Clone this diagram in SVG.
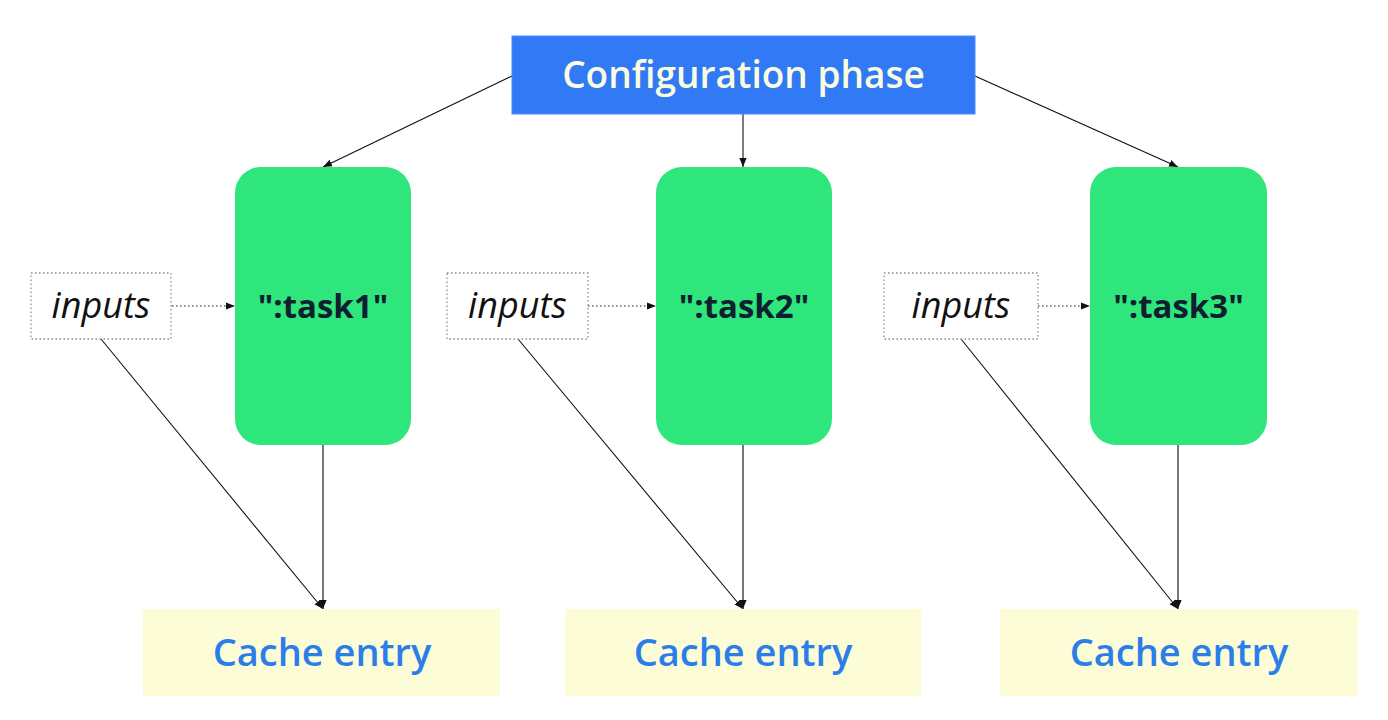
<svg xmlns="http://www.w3.org/2000/svg" width="1388" height="720" viewBox="0 0 1388 720">
<style>
.bg{fill:#ffffff}
.config{fill:#3179f5;stroke:#4a8cf7;stroke-width:1}
.config-t{font-family:"Open Sans","Liberation Sans",sans-serif;font-weight:600;font-size:37px;fill:#fbfde0}
.task{fill:#2ee67c}
.task-t{font-family:"Open Sans","Liberation Sans",sans-serif;font-weight:700;font-size:33px;fill:#0f1f30}
.inp{fill:#ffffff;stroke:#8a8a8a;stroke-width:1.3;stroke-dasharray:1.5 2.5}
.inp-t{font-family:"Open Sans","Liberation Sans",sans-serif;font-style:italic;font-size:36px;fill:#111111}
.cache{fill:#fcfdd6}
.cache-t{font-family:"Open Sans","Liberation Sans",sans-serif;font-weight:600;font-size:38px;fill:#2b7de9}
.edge{stroke:#111111;stroke-width:1.1;fill:none}
.edge-g{stroke:#555555;stroke-width:1.6;fill:none}
.dot{stroke:#666666;stroke-width:1.3;stroke-dasharray:1.5 2.5;fill:none}
</style>
<defs>
<marker id="ah" viewBox="0 0 10 10" refX="10" refY="5" markerWidth="9" markerHeight="9" markerUnits="userSpaceOnUse" orient="auto">
<path d="M0,1 L10,5 L0,9 z" fill="#111111"/>
</marker>
</defs>
<rect class="bg" x="0" y="0" width="1388" height="720"/>
<g id="connectors">
<line class="edge" x1="512" y1="76" x2="323" y2="167" marker-end="url(#ah)"/>
<line class="edge" x1="743" y1="114" x2="743" y2="167" marker-end="url(#ah)"/>
<line class="edge" x1="975" y1="76" x2="1178" y2="167" marker-end="url(#ah)"/>
<line class="dot" x1="172" y1="306" x2="235" y2="306" marker-end="url(#ah)"/>
<line class="dot" x1="588" y1="306" x2="656" y2="306" marker-end="url(#ah)"/>
<line class="dot" x1="1038" y1="306" x2="1090" y2="306" marker-end="url(#ah)"/>
<line class="edge" x1="101" y1="339" x2="323" y2="609" marker-end="url(#ah)"/>
<line class="edge" x1="518" y1="339" x2="743" y2="609" marker-end="url(#ah)"/>
<line class="edge" x1="961" y1="339" x2="1178" y2="609" marker-end="url(#ah)"/>
<line class="edge-g" x1="323" y1="445" x2="323" y2="609" marker-end="url(#ah)"/>
<line class="edge-g" x1="743" y1="445" x2="743" y2="609" marker-end="url(#ah)"/>
<line class="edge-g" x1="1178" y1="445" x2="1178" y2="609" marker-end="url(#ah)"/>
</g>
<g id="config">
<rect class="config" x="512" y="36" width="463" height="78"/>
<text class="config-t" x="743.5" y="88" text-anchor="middle">Configuration phase</text>
</g>
<g id="task1">
<rect class="task" x="235" y="167" width="176" height="278" rx="26"/>
<text class="task-t" x="323" y="318" text-anchor="middle">":task1"</text>
</g>
<g id="task2">
<rect class="task" x="656" y="167" width="176" height="278" rx="26"/>
<text class="task-t" x="744" y="318" text-anchor="middle">":task2"</text>
</g>
<g id="task3">
<rect class="task" x="1090" y="167" width="177" height="278" rx="26"/>
<text class="task-t" x="1178.5" y="318" text-anchor="middle">":task3"</text>
</g>
<g id="inputs1">
<rect class="inp" x="31" y="273" width="140" height="66"/>
<text class="inp-t" x="101" y="318" text-anchor="middle">inputs</text>
</g>
<g id="inputs2">
<rect class="inp" x="447" y="273" width="141" height="66"/>
<text class="inp-t" x="517.5" y="318" text-anchor="middle">inputs</text>
</g>
<g id="inputs3">
<rect class="inp" x="884" y="273" width="154" height="66"/>
<text class="inp-t" x="961" y="318" text-anchor="middle">inputs</text>
</g>
<g id="cache1">
<rect class="cache" x="143" y="609" width="357" height="87"/>
<text class="cache-t" x="322" y="666" text-anchor="middle">Cache entry</text>
</g>
<g id="cache2">
<rect class="cache" x="565" y="609" width="356" height="87"/>
<text class="cache-t" x="743" y="666" text-anchor="middle">Cache entry</text>
</g>
<g id="cache3">
<rect class="cache" x="1000" y="609" width="358" height="87"/>
<text class="cache-t" x="1179" y="666" text-anchor="middle">Cache entry</text>
</g>
</svg>
